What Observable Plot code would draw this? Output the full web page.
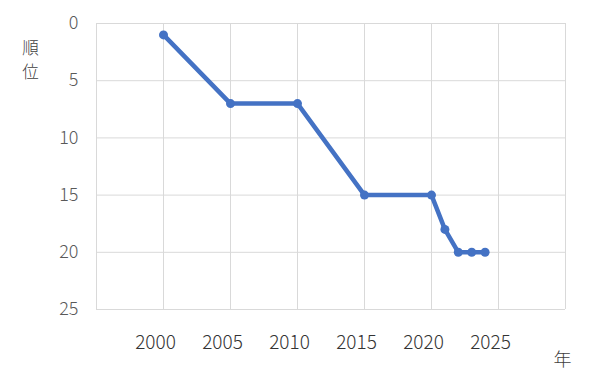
<!DOCTYPE html>
<html><head><meta charset="utf-8">
<script src="https://cdn.jsdelivr.net/npm/d3@7"></script>
<script src="https://cdn.jsdelivr.net/npm/@observablehq/plot@0.6"></script>
<style>body{margin:0;background:#fff}</style>
</head><body><div id="chart"></div>
<script>
const years = [2000, 2005, 2010, 2015, 2020, 2021, 2022, 2023, 2024];
const ranks = [1, 7, 7, 15, 15, 18, 20, 20, 20];
const xTicks = [2000, 2005, 2010, 2015, 2020, 2025];
const xGrid = [1995, 2000, 2005, 2010, 2015, 2020, 2025, 2030];
const yTicks = [0, 5, 10, 15, 20, 25];
const yLabelChars = ["順", "位"];
const xLabel = "年";

const data = years.map((y, i) => ({year: y, rank: ranks[i]}));
const font = "'Noto Sans CJK JP', 'Noto Sans', sans-serif";

const chart = Plot.plot({
  width: 602, height: 385,
  marginLeft: 96, marginRight: 37, marginTop: 23, marginBottom: 76,
  style: {fontFamily: font, background: "#fff"},
  x: {domain: [1995, 2030]},
  y: {domain: [0, 25], reverse: true},
  marks: [
    Plot.ruleX(xGrid, {stroke: "#d9d9d9", strokeWidth: 1}),
    Plot.ruleY(yTicks, {stroke: "#d9d9d9", strokeWidth: 1}),
    Plot.axisY(yTicks, {tickSize: 0, tickPadding: 18, fontSize: 18, color: "#595959", fontWeight: 300, label: null}),
    Plot.axisX(xTicks, {tickSize: 0, tickPadding: 26, dx: -8, fontSize: 19, color: "#333", fontWeight: 300, label: null, tickFormat: d => String(d)}),
    Plot.line(data, {x: "year", y: "rank", stroke: "#4472c4", strokeWidth: 4.5, strokeLinejoin: "round"}),
    Plot.dot(data, {x: "year", y: "rank", r: 4.5, fill: "#4472c4"}),
    Plot.text([yLabelChars[0]], {frameAnchor: "top-left", dx: -66, dy: 19, text: d => d, fontSize: 16.5, fill: "#404040", fontWeight: 300, textAnchor: "middle"}),
    Plot.text([yLabelChars[1]], {frameAnchor: "top-left", dx: -66, dy: 43, text: d => d, fontSize: 16.5, fill: "#404040", fontWeight: 300, textAnchor: "middle"}),
    Plot.text([xLabel], {frameAnchor: "bottom-right", dx: -3, dy: 56, text: d => d, fontSize: 18, fill: "#404040", fontWeight: 300, textAnchor: "middle"})
  ]
});
document.getElementById("chart").appendChild(chart);
</script>
</body></html>
